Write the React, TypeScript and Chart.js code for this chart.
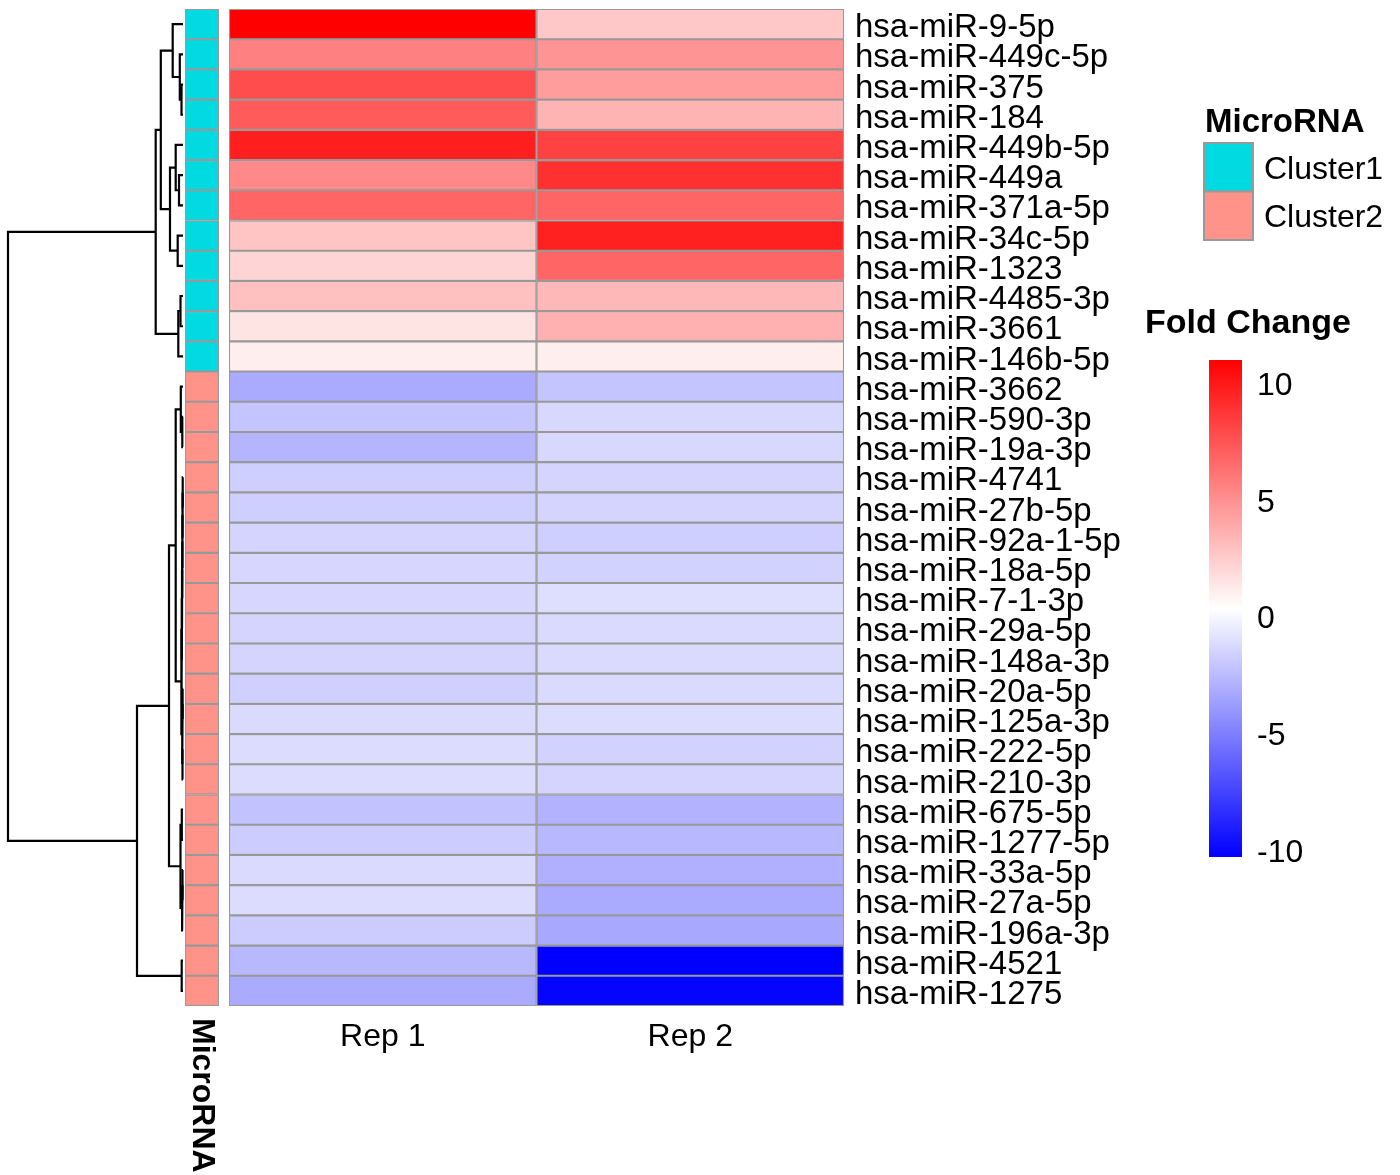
import React, { useEffect, useRef } from "react";
import { Chart, registerables } from "chart.js";

Chart.register(...registerables);

// ---------------- DATA ----------------
const rowNames = [
  "hsa-miR-9-5p", "hsa-miR-449c-5p", "hsa-miR-375", "hsa-miR-184", "hsa-miR-449b-5p",
  "hsa-miR-449a", "hsa-miR-371a-5p", "hsa-miR-34c-5p", "hsa-miR-1323", "hsa-miR-4485-3p",
  "hsa-miR-3661", "hsa-miR-146b-5p", "hsa-miR-3662", "hsa-miR-590-3p", "hsa-miR-19a-3p",
  "hsa-miR-4741", "hsa-miR-27b-5p", "hsa-miR-92a-1-5p", "hsa-miR-18a-5p", "hsa-miR-7-1-3p",
  "hsa-miR-29a-5p", "hsa-miR-148a-3p", "hsa-miR-20a-5p", "hsa-miR-125a-3p", "hsa-miR-222-5p",
  "hsa-miR-210-3p", "hsa-miR-675-5p", "hsa-miR-1277-5p", "hsa-miR-33a-5p", "hsa-miR-27a-5p",
  "hsa-miR-196a-3p", "hsa-miR-4521", "hsa-miR-1275",
];

const colNames = ["Rep 1", "Rep 2"];

const rep1 = [
  11.0, 5.65, 7.8, 7.2, 9.7, 5.3, 6.8, 2.8, 2.15, 2.98, 1.48, 1.06,
  -3.2, -2.1, -2.78, -1.7, -1.7, -1.45, -1.36, -1.36, -1.45, -1.45, -1.6, -1.2,
  -1.12, -1.12, -2.2, -1.78, -1.2, -1.12, -1.78, -2.6, -3.2,
];

const rep2 = [
  2.65, 4.8, 4.5, 3.5, 8.3, 9.0, 6.8, 9.65, 6.8, 3.3, 3.65, 1.06,
  -2.1, -1.28, -1.28, -1.45, -1.45, -1.7, -1.53, -1.03, -1.2, -1.2, -1.2, -1.12,
  -1.53, -1.45, -2.87, -2.6, -2.95, -3.2, -3.3, -10.3, -10.1,
];

const clusterNames = ["Cluster1", "Cluster2"];
const clusterColors = ["#00DAE0", "#FF9289"];
const rowClusters = [
  "Cluster1", "Cluster1", "Cluster1", "Cluster1", "Cluster1", "Cluster1",
  "Cluster1", "Cluster1", "Cluster1", "Cluster1", "Cluster1", "Cluster1",
  "Cluster2", "Cluster2", "Cluster2", "Cluster2", "Cluster2", "Cluster2", "Cluster2",
  "Cluster2", "Cluster2", "Cluster2", "Cluster2", "Cluster2", "Cluster2", "Cluster2",
  "Cluster2", "Cluster2", "Cluster2", "Cluster2", "Cluster2", "Cluster2", "Cluster2",
];

const legendTicks = [10, 5, 0, -5, -10];

// hclust-style merges: negative = leaf (row index + 1), positive = earlier merge (1-based), height
const dendroMerges: [number, number, number][] = [
  [-3, -4, 0.15],
  [-2, 1, 0.32],
  [-1, 2, 1.03],
  [-6, -7, 0.4],
  [-5, 4, 0.73],
  [-8, -9, 0.53],
  [5, 6, 1.3],
  [3, 7, 2.22],
  [-10, -11, 0.25],
  [9, -12, 0.47],
  [8, 10, 2.73],
  [-14, -15, 0.07],
  [-13, 12, 0.22],
  [-16, -17, 0.03],
  [14, -18, 0.05],
  [15, -19, 0.06],
  [16, -20, 0.08],
  [17, -21, 0.1],
  [18, -22, 0.12],
  [-23, -24, 0.04],
  [-25, -26, 0.05],
  [20, 21, 0.09],
  [19, 22, 0.16],
  [13, 23, 0.73],
  [-27, -28, 0.12],
  [-29, -30, 0.05],
  [26, -31, 0.09],
  [25, 27, 0.25],
  [24, 28, 1.4],
  [-32, -33, 0.13],
  [29, 30, 4.6],
  [11, 31, 17.5],
];

// ---------------- HELPERS ----------------
const FONT = '"Liberation Sans", Arial, Helvetica, sans-serif';
const allVals = [...rep1, ...rep2];
const vMin = Math.min(...allVals);
const vMax = Math.max(...allVals);

function fcColor(v: number) {
  const t = (v - vMin) / (vMax - vMin);
  if (t <= 0.5) {
    const g = Math.round(255 * (t / 0.5));
    return `rgb(${g},${g},255)`;
  }
  const g = Math.round(255 * (1 - (t - 0.5) / 0.5));
  return `rgb(255,${g},${g})`;
}

function buildDendro() {
  const nodeY: number[] = [];
  const nodeH: number[] = [];
  const pos = (c: number) =>
    c < 0 ? { y: -c - 1 + 0.5, h: 0 } : { y: nodeY[c - 1], h: nodeH[c - 1] };
  const segs: { x: number; y: number }[][] = [];
  dendroMerges.forEach(([a, b, h], k) => {
    const pa = pos(a);
    const pb = pos(b);
    nodeY[k] = (pa.y + pb.y) / 2;
    nodeH[k] = h;
    segs.push([
      { x: pa.h, y: pa.y },
      { x: h, y: pa.y },
      { x: h, y: pb.y },
      { x: pb.h, y: pb.y },
    ]);
  });
  return segs;
}

// ---------------- LAYOUT (page px) ----------------
const W = 1400;
const H = 1175;
const TOP = 9;
const BOTTOM = 1006;
const A = { left: 0, width: 184, padL: 8, padR: 1 };
const D = { left: 180, width: 44, padL: 5, padR: 5 };
const B = { left: 229, width: 911, axisW: 296 };
const C = { left: 1140, width: 260, padL: 69, axisW: 158, top: 360, bottom: 857 };
const CELL_BORDER = "#999999";
const CELL_BORDER_W = 1.4;

const baseOpts = {
  animation: false,
  responsive: false,
  maintainAspectRatio: false,
  events: [],
  plugins: { legend: { display: false }, tooltip: { enabled: false } },
};

export default function App() {
  const refA = useRef<HTMLCanvasElement>(null);
  const refB = useRef<HTMLCanvasElement>(null);
  const refC = useRef<HTMLCanvasElement>(null);
  const refD = useRef<HTMLCanvasElement>(null);

  useEffect(() => {
    Chart.defaults.font.family = FONT;
    Chart.defaults.color = "#000";
    const charts: Chart[] = [];

    // ---- Dendrogram ----
    const segs = buildDendro();
    const rootH = Math.max(...dendroMerges.map((m) => m[2]));
    charts.push(
      new Chart(refA.current as HTMLCanvasElement, {
        type: "scatter",
        data: {
          datasets: segs.map((pts) => ({
            data: pts,
            showLine: true,
            borderColor: "#000",
            borderWidth: 2.2,
            pointRadius: 0,
            fill: false,
            clip: false,
            tension: 0,
          })),
        },
        options: {
          ...baseOpts,
          layout: { padding: { left: A.padL, right: A.padR, top: TOP, bottom: H - BOTTOM } },
          scales: {
            x: { type: "linear", display: false, reverse: true, min: 0, max: rootH },
            y: { type: "linear", display: false, reverse: true, min: 0, max: rowNames.length },
          },
        } as any,
      })
    );

    // ---- Annotation column ----
    const annLabelPlugin = {
      id: "annLabel",
      afterDraw(chart: any) {
        const { ctx, chartArea } = chart;
        ctx.save();
        ctx.translate((chartArea.left + chartArea.right) / 2, chartArea.bottom + 12);
        ctx.rotate(Math.PI / 2);
        ctx.font = `bold 32px ${FONT}`;
        ctx.fillStyle = "#000";
        ctx.textAlign = "left";
        ctx.textBaseline = "middle";
        ctx.fillText("MicroRNA", 0, 0);
        ctx.restore();
      },
    };
    charts.push(
      new Chart(refD.current as HTMLCanvasElement, {
        type: "bar",
        data: {
          labels: rowNames,
          datasets: [
            {
              data: rowNames.map(() => [0, 1]),
              backgroundColor: rowClusters.map((c) => clusterColors[clusterNames.indexOf(c)]),
              borderColor: CELL_BORDER,
              borderWidth: CELL_BORDER_W,
              borderSkipped: false,
              barPercentage: 1,
              categoryPercentage: 1,
            },
          ],
        },
        options: {
          ...baseOpts,
          indexAxis: "y",
          layout: { padding: { left: D.padL, right: D.padR, top: TOP, bottom: H - BOTTOM } },
          scales: {
            x: { type: "linear", display: false, min: 0, max: 1 },
            y: { type: "category", display: false },
          },
        } as any,
        plugins: [annLabelPlugin],
      })
    );

    // ---- Heatmap ----
    charts.push(
      new Chart(refB.current as HTMLCanvasElement, {
        type: "bar",
        data: {
          labels: rowNames,
          datasets: [rep1, rep2].map((vals, c) => ({
            label: colNames[c],
            data: vals.map(() => [c, c + 1]),
            backgroundColor: vals.map(fcColor),
            borderColor: CELL_BORDER,
            borderWidth: CELL_BORDER_W,
            borderSkipped: false,
            barPercentage: 1,
            categoryPercentage: 1,
            grouped: false,
          })),
        },
        options: {
          ...baseOpts,
          indexAxis: "y",
          layout: { padding: { left: 0, right: 0, top: TOP, bottom: 0 } },
          scales: {
            x: {
              type: "linear",
              position: "bottom",
              min: 0,
              max: colNames.length,
              grid: { display: false, drawTicks: false },
              border: { display: false },
              ticks: {
                font: { size: 32 },
                color: "#000",
                padding: 12,
                autoSkip: false,
                minRotation: 0,
                maxRotation: 0,
                callback: (_v: any, i: number) => colNames[i],
              },
              afterBuildTicks: (ax: any) => {
                ax.ticks = colNames.map((_n, c) => ({ value: c + 0.5 }));
              },
              afterFit: (ax: any) => {
                ax.height = H - BOTTOM;
                ax.paddingLeft = 0;
                ax.paddingRight = 0;
              },
            },
            y: {
              type: "category",
              position: "right",
              grid: { display: false, drawTicks: false },
              border: { display: false },
              ticks: {
                font: { size: 33 },
                color: "#000",
                padding: 11,
                labelOffset: 4,
                autoSkip: false,
              },
              afterFit: (ax: any) => {
                ax.width = B.axisW;
                ax.paddingTop = 0;
                ax.paddingBottom = 0;
              },
            },
          },
        } as any,
      })
    );

    // ---- Color bar + legends ----
    const legendPlugin = {
      id: "legendText",
      afterDraw(chart: any) {
        const ctx = chart.ctx;
        const ox = C.left;
        ctx.save();
        ctx.textAlign = "left";
        ctx.textBaseline = "middle";
        ctx.fillStyle = "#000";
        ctx.font = `bold 33px ${FONT}`;
        ctx.fillText("MicroRNA", 1205 - ox, 123);
        clusterNames.forEach((name, i) => {
          const y0 = 143 + i * 48.5;
          ctx.fillStyle = clusterColors[i];
          ctx.fillRect(1204 - ox, y0, 49, 48.5);
          ctx.strokeStyle = "#999999";
          ctx.lineWidth = 2;
          ctx.strokeRect(1204 - ox, y0, 49, 48.5);
          ctx.fillStyle = "#000";
          ctx.font = `32px ${FONT}`;
          ctx.fillText(name, 1264 - ox, y0 + 27);
        });
        ctx.font = `bold 34px ${FONT}`;
        ctx.fillText("Fold Change", 1145 - ox, 324);
        ctx.restore();
      },
    };
    charts.push(
      new Chart(refC.current as HTMLCanvasElement, {
        type: "bar",
        data: {
          labels: ["Fold Change"],
          datasets: [
            {
              data: [[vMin, vMax]],
              backgroundColor: (ctx: any) => {
                const chart = ctx.chart;
                const ys = chart.scales.y;
                if (!chart.chartArea || !ys) return "#fff";
                const g = chart.ctx.createLinearGradient(
                  0,
                  ys.getPixelForValue(vMin),
                  0,
                  ys.getPixelForValue(vMax)
                );
                for (let k = 0; k <= 20; k++) {
                  g.addColorStop(k / 20, fcColor(vMin + ((vMax - vMin) * k) / 20));
                }
                return g;
              },
              borderWidth: 0,
              barPercentage: 1,
              categoryPercentage: 1,
            },
          ],
        },
        options: {
          ...baseOpts,
          layout: { padding: { left: C.padL, right: 0, top: C.top, bottom: H - C.bottom } },
          scales: {
            x: { type: "category", display: false },
            y: {
              type: "linear",
              position: "right",
              min: vMin,
              max: vMax,
              grid: { display: false, drawTicks: false },
              border: { display: false },
              ticks: {
                font: { size: 32 },
                color: "#000",
                padding: 15,
                labelOffset: 3,
                autoSkip: false,
                callback: (v: any) => String(v),
              },
              afterBuildTicks: (ax: any) => {
                ax.ticks = legendTicks.map((v) => ({ value: v }));
              },
              afterFit: (ax: any) => {
                ax.width = C.axisW;
                ax.paddingTop = 0;
                ax.paddingBottom = 0;
              },
            },
          },
        } as any,
        plugins: [legendPlugin],
      })
    );

    return () => {
      charts.forEach((c) => c.destroy());
    };
  }, []);

  const cv = (left: number, width: number) => ({
    position: "absolute" as const,
    left,
    top: 0,
    width,
    height: H,
  });

  return (
    <div style={{ position: "absolute", left: 0, top: 0, width: W, height: H, background: "#fff" }}>
      <canvas ref={refA} width={A.width} height={H} style={cv(A.left, A.width)} />
      <canvas ref={refD} width={D.width} height={H} style={cv(D.left, D.width)} />
      <canvas ref={refB} width={B.width} height={H} style={cv(B.left, B.width)} />
      <canvas ref={refC} width={C.width} height={H} style={cv(C.left, C.width)} />
    </div>
  );
}
